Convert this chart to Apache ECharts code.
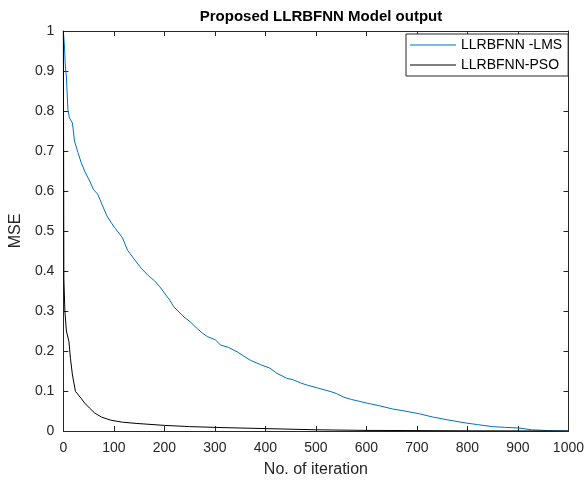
<!DOCTYPE html>
<html>
<head>
<meta charset="utf-8">
<script src="https://cdn.jsdelivr.net/npm/echarts@6/dist/echarts.min.js"></script>
<style>
  html, body { margin: 0; padding: 0; background: #fff; }
  #chart { width: 587px; height: 483px; }
</style>
</head>
<body>
<div id="chart"></div>
<script>
// values
const lmsIter = [0, 2, 4, 6, 9, 12, 18, 22, 29, 35, 42, 52, 60, 68, 78, 86, 101, 110, 117, 127,
  140, 154, 167, 180, 190, 199, 210, 219, 239, 252, 265, 275, 285, 301, 311, 327, 344, 360, 370,
  390, 409, 423, 442, 455, 470, 482, 505, 528, 540, 554, 570, 600, 626, 652, 680, 705, 731, 760,
  797, 820, 849, 875, 902, 927, 960, 1000];
const lmsMse = [1.0, 0.965, 0.91, 0.885, 0.803, 0.783, 0.77, 0.725, 0.696, 0.672, 0.65, 0.625,
  0.603, 0.592, 0.562, 0.538, 0.509, 0.495, 0.483, 0.452, 0.43, 0.407, 0.39, 0.376, 0.362, 0.347,
  0.328, 0.31, 0.285, 0.272, 0.256, 0.245, 0.236, 0.228, 0.215, 0.209, 0.198, 0.185, 0.177, 0.166,
  0.157, 0.144, 0.132, 0.128, 0.12, 0.115, 0.107, 0.099, 0.094, 0.085, 0.079, 0.07, 0.063, 0.055,
  0.049, 0.043, 0.035, 0.028, 0.02, 0.016, 0.011, 0.009, 0.0075, 0.003, 0.001, 0.0];

const psoIter = [0, 1, 3, 6, 11, 14, 18, 24, 35, 42, 52, 62, 75, 94, 117, 144, 200, 250, 301,
  350, 400, 501, 600, 800, 1000];
const psoMse = [1.0, 0.38, 0.3, 0.25, 0.224, 0.182, 0.14, 0.099, 0.082, 0.07, 0.057, 0.045,
  0.035, 0.027, 0.022, 0.019, 0.014, 0.011, 0.009, 0.0075, 0.006, 0.003, 0.0015, 0.0005, 0.0];

const xTicks = [0, 100, 200, 300, 400, 500, 600, 700, 800, 900, 1000];
const yTicks = [0, 0.1, 0.2, 0.3, 0.4, 0.5, 0.6, 0.7, 0.8, 0.9, 1];

const zip = (a, b) => a.map((v, i) => [v, b[i]]);
const font = "Liberation Sans, Arial, Helvetica, sans-serif";

const axisLine = { show: true, onZero: false, lineStyle: { color: "#262626", width: 1 } };
const tickIn = { show: true, inside: true, length: 5, lineStyle: { color: "#262626" } };

const chart = echarts.init(document.getElementById("chart"));

const option = {
  animation: false,
  backgroundColor: "#fff",
  title: {
    text: "Proposed LLRBFNN Model output",
    left: 316,
    textAlign: "center",
    top: 4,
    textStyle: { fontFamily: font, fontSize: 15, fontWeight: "bold", color: "#000" },
  },
  legend: {
    orient: "vertical",
    left: 406,
    top: 34,
    padding: [4, 6, 4, 4],
    itemGap: 6,
    itemWidth: 46,
    itemHeight: 1,
    icon: "rect",
    borderColor: "#262626",
    borderWidth: 1,
    borderRadius: 0,
    backgroundColor: "#fff",
    textStyle: { fontFamily: font, fontSize: 14, color: "#000", lineHeight: 14 },
    data: ["LLRBFNN -LMS", "LLRBFNN-PSO"],
  },
  grid: { left: 62, right: 17, top: 31, bottom: 50, containLabel: false },
  xAxis: [
    {
      type: "value",
      min: xTicks[0],
      max: xTicks[xTicks.length - 1],
      interval: 100,
      name: "No. of iteration",
      nameLocation: "middle",
      nameGap: 31,
      nameTextStyle: { fontFamily: font, fontSize: 16, color: "#262626" },
      axisLine: axisLine,
      axisTick: tickIn,
      axisLabel: { fontFamily: font, fontSize: 14, color: "#262626", margin: 10, formatter: (v) => String(v) },
      splitLine: { show: false },
    },
    {
      type: "value",
      position: "top",
      min: 0,
      max: 1000,
      interval: 100,
      axisLine: axisLine,
      axisTick: tickIn,
      axisLabel: { show: false },
      splitLine: { show: false },
    },
  ],
  yAxis: [
    {
      type: "value",
      min: yTicks[0],
      max: yTicks[yTicks.length - 1],
      interval: 0.1,
      name: "MSE",
      nameLocation: "middle",
      nameGap: 33,
      nameTextStyle: { fontFamily: font, fontSize: 16, color: "#262626" },
      axisLine: axisLine,
      axisTick: tickIn,
      axisLabel: {
        fontFamily: font, fontSize: 14, color: "#262626", margin: 9,
        formatter: (v) => String(Math.round(v * 10) / 10),
      },
      splitLine: { show: false },
    },
    {
      type: "value",
      position: "right",
      min: 0,
      max: 1,
      interval: 0.1,
      axisLine: axisLine,
      axisTick: tickIn,
      axisLabel: { show: false },
      splitLine: { show: false },
    },
  ],
  series: [
    {
      name: "LLRBFNN -LMS",
      type: "line",
      data: zip(lmsIter, lmsMse),
      symbol: "none",
      lineStyle: { color: "#0072BD", width: 1 },
      itemStyle: { color: "#0072BD" },
    },
    {
      name: "LLRBFNN-PSO",
      type: "line",
      data: zip(psoIter, psoMse),
      symbol: "none",
      lineStyle: { color: "#000", width: 1 },
      itemStyle: { color: "#000" },
    },
  ],
};

chart.setOption(option);
</script>
</body>
</html>
